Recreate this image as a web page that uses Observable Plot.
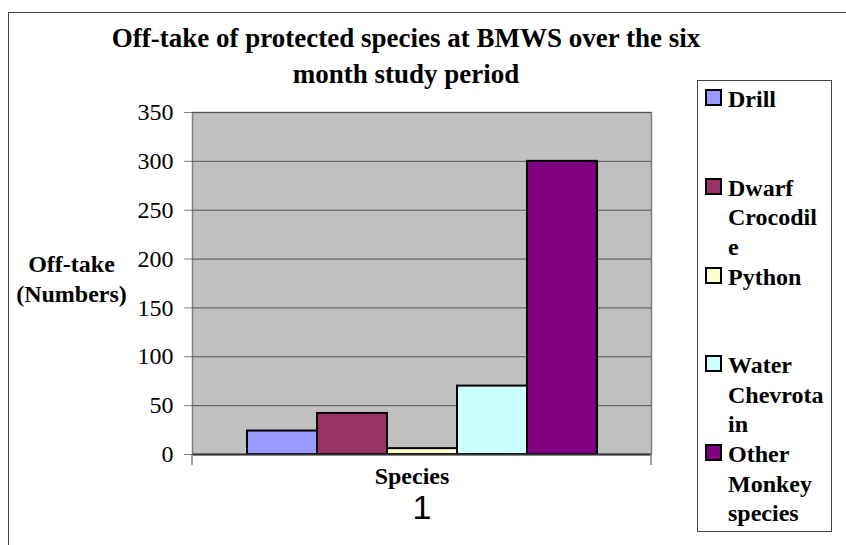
<!DOCTYPE html>
<html>
<head>
<meta charset="utf-8">
<script src="https://cdn.jsdelivr.net/npm/d3@7"></script>
<script src="https://cdn.jsdelivr.net/npm/@observablehq/plot@0.6"></script>
<style>
  html, body { margin: 0; padding: 0; background: white; overflow: hidden; }
  #wrap { position: relative; width: 846px; height: 545px; overflow: hidden; font-family: "Liberation Serif", "Times New Roman", serif; color: black; }
  #wrap svg { position: absolute; left: 0; top: 0; }
  #outer { position: absolute; left: 8px; top: 12px; width: 900px; height: 600px; border: 1.5px solid #444; box-sizing: border-box; pointer-events: none; }
  #title { position: absolute; left: 96px; top: 20px; width: 620px; text-align: center; font-weight: bold; font-size: 27px; line-height: 36px; }
  #ytitle { position: absolute; left: 0px; top: 250px; width: 143px; text-align: center; font-weight: bold; font-size: 24px; line-height: 29.5px; }
  #legend { position: absolute; left: 697px; top: 80px; width: 135px; height: 452px; border: 1.5px solid #444; box-sizing: border-box; background: white; }
  .item { position: absolute; left: 0; width: 135px; }
  .sw { position: absolute; left: 7px; top: 4px; width: 17px; height: 17px; border: 2px solid black; box-sizing: border-box; }
  .lt { position: absolute; left: 30px; top: 0; width: 98px; font-weight: bold; font-size: 24px; line-height: 29.5px; overflow-wrap: anywhere; }
</style>
</head>
<body>
<div id="wrap">
  <div id="title">Off-take of protected species at BMWS over the six month study period</div>
  <div id="ytitle">Off-take<br>(Numbers)</div>
  <div id="legend"></div>
  <div id="outer"></div>
</div>
<script>
const species = ["Drill", "Dwarf Crocodile", "Python", "Water Chevrotain", "Other Monkey species"];
const offtake = [24, 42, 6, 70, 300];
const colors = ["#9999FF", "#993366", "#FFFFCC", "#CCFFFF", "#800080"];
const groups = ["1"];
const yTicks = [0, 50, 100, 150, 200, 250, 300, 350];

const data = species.map((s, i) => ({group: groups[0], species: s, value: offtake[i]}));

const W = 846, H = 545;
const mL = 192, mR = 195, mT = 112, mB = 91;

const chart = Plot.plot({
  width: W, height: H,
  marginLeft: mL, marginRight: mR, marginTop: mT, marginBottom: mB,
  style: {background: "transparent", fontFamily: "Liberation Serif", color: "black", overflow: "visible"},
  fx: {domain: groups, padding: 0},
  x: {domain: species, paddingInner: 0, paddingOuter: 0.75, axis: null},
  y: {domain: [0, 350]},
  color: {domain: species, range: colors},
  marks: [
    Plot.frame({fill: "#C0C0C0", stroke: "#808080", strokeWidth: 1.5}),
    Plot.gridY(yTicks, {stroke: "#555", strokeOpacity: 1, strokeWidth: 1}),
    Plot.barY(data, {fx: "group", x: "species", y: "value", fill: "species", stroke: "black", strokeWidth: 2}),
    Plot.ruleY([0], {stroke: "#333", strokeWidth: 2}),
    Plot.axisY(yTicks, {tickSize: 8, tickPadding: 11, fontSize: 24, stroke: "#808080", label: null}),
    Plot.axisFx({anchor: "bottom", tickSize: 0, tickPadding: 40, fontSize: 34, fontFamily: "Liberation Sans", label: null}),
    Plot.text(["Species"], {text: d => d, frameAnchor: "bottom", lineAnchor: "top", dy: 12, dx: -10, fontSize: 24, fontWeight: "bold"})
  ]
});

const wrap = document.getElementById("wrap");
wrap.insertBefore(chart, wrap.firstChild);

// small category-edge ticks below the plot frame
const svg = d3.select(chart);
[mL, W - mR].forEach(x => {
  svg.append("line").attr("x1", x).attr("x2", x).attr("y1", H - mB).attr("y2", H - mB + 11)
    .attr("stroke", "#808080").attr("stroke-width", 1.5);
});

// legend
const legend = d3.select("#legend");
species.forEach((s, i) => {
  const it = legend.append("div").attr("class", "item").style("top", (4 + i * 88.8) + "px");
  it.append("div").attr("class", "sw").style("background", colors[i]);
  it.append("div").attr("class", "lt").text(s);
});
</script>
</body>
</html>
